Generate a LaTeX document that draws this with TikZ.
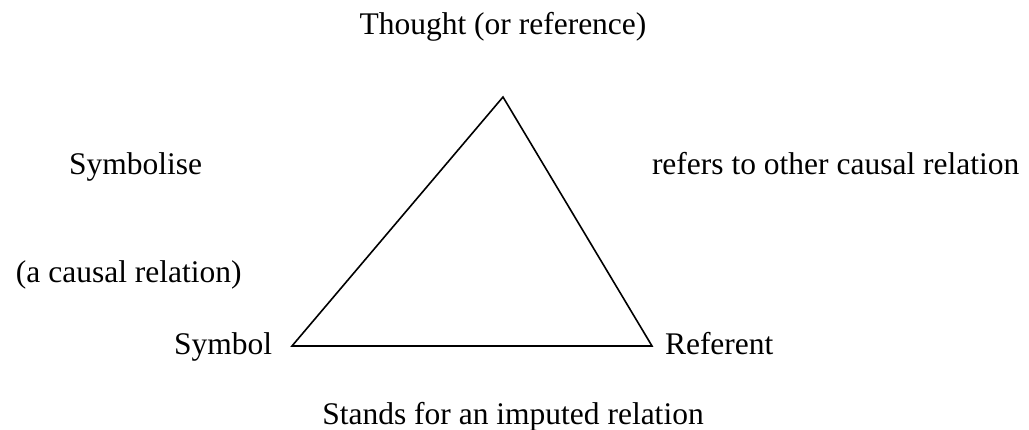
\documentclass[tikz,border=0pt]{standalone}
\usepackage{fontspec}
\setmainfont{Liberation Serif}
\begin{document}
\begin{tikzpicture}[x=1pt,y=1pt,
  lbl/.style={inner sep=0pt,outer sep=0pt,font=\fontsize{31.5}{36}\selectfont},
  side/.style={line width=1.6pt,line join=miter}]
\useasboundingbox (0,0) rectangle (1029,430);
\coordinate (top) at (503,333);
\coordinate (sym) at (292,84);
\coordinate (ref) at (652,84);
\draw[side] (sym) -- (top) -- (ref) -- cycle;
\node[lbl,anchor=base] (thought) at (503,395) {Thought (or reference)};
\node[lbl,anchor=base west] (symbolise) at (69,255) {Symbolise};
\node[lbl,anchor=base west] (refers) at (652,255) {refers to other causal relation};
\node[lbl,anchor=base west] (causal) at (16,147) {(a causal relation)};
\node[lbl,anchor=base west] (symbol) at (174,75) {Symbol};
\node[lbl,anchor=base west] (referent) at (665,75) {Referent};
\node[lbl,anchor=base] (stands) at (513,5) {Stands for an imputed relation};
\end{tikzpicture}
\end{document}
